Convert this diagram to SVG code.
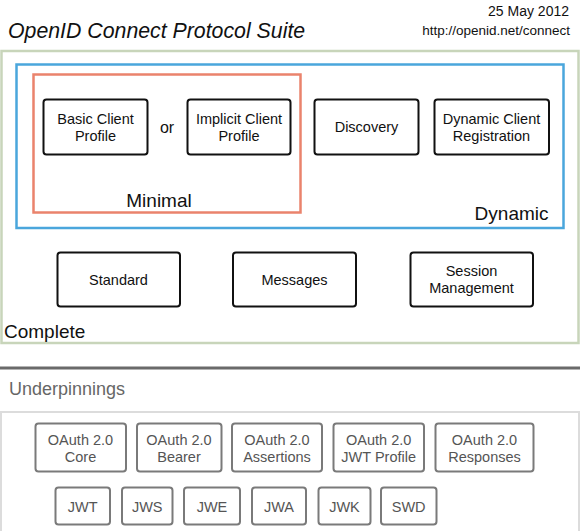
<svg xmlns="http://www.w3.org/2000/svg" width="580" height="531" viewBox="0 0 580 531">
<style>
text{font-family:"Liberation Sans",Arial,sans-serif;}
.t{font-size:14.5px;fill:#111;text-anchor:middle;}
.big{font-size:19px;fill:#111;}
.b{fill:#fff;stroke:#111;stroke-width:2;}
.g{fill:#fff;stroke:#7a7a7a;stroke-width:2;}
.gt{font-size:14.5px;fill:#555;text-anchor:middle;}
</style>
<rect width="580" height="531" fill="#fff"/>
<text x="8" y="38" font-size="21.3" font-style="italic" fill="#111">OpenID Connect Protocol Suite</text>
<text x="569" y="16" font-size="14" fill="#111" text-anchor="end">25 May 2012</text>
<text x="570" y="35" font-size="13.5" fill="#111" text-anchor="end">http://openid.net/connect</text>

<g id="complete">
<rect x="1.5" y="51" width="577" height="292" fill="none" stroke="#c8d5ba" stroke-width="2.5"/>
<text class="big" x="4" y="338">Complete</text>
</g>
<g id="dynamic">
<rect x="16.5" y="64.5" width="547" height="163.5" fill="none" stroke="#4aa6dc" stroke-width="2.5"/>
<text class="big" x="548.5" y="219.5" text-anchor="end">Dynamic</text>
</g>
<g id="minimal">
<rect x="33.5" y="74.5" width="267" height="138" fill="none" stroke="#ea836c" stroke-width="2.5"/>
<text class="big" x="159" y="207" text-anchor="middle">Minimal</text>
</g>

<g id="basic">
<rect class="b" x="43.5" y="99.5" width="104" height="55" rx="3"/>
<text class="t" x="95.5" y="123.5">Basic Client</text>
<text class="t" x="95.5" y="140.5">Profile</text>
</g>
<g id="or"><text x="167" y="132.5" font-size="16" fill="#111" text-anchor="middle">or</text></g>
<g id="implicit">
<rect class="b" x="187.5" y="99.5" width="103" height="55" rx="3"/>
<text class="t" x="239" y="123.5">Implicit Client</text>
<text class="t" x="239" y="140.5">Profile</text>
</g>
<g id="discovery">
<rect class="b" x="314.5" y="99.5" width="104" height="55" rx="3"/>
<text class="t" x="366.5" y="132">Discovery</text>
</g>
<g id="registration">
<rect class="b" x="434.5" y="99.5" width="114.5" height="55" rx="3"/>
<text class="t" x="491.5" y="123.5">Dynamic Client</text>
<text class="t" x="491.5" y="140.5">Registration</text>
</g>
<g id="standard">
<rect class="b" x="57.5" y="252.5" width="122.5" height="54" rx="3"/>
<text class="t" x="118.5" y="285">Standard</text>
</g>
<g id="messages">
<rect class="b" x="233" y="252.5" width="123" height="54" rx="3"/>
<text class="t" x="294.5" y="285">Messages</text>
</g>
<g id="session">
<rect class="b" x="410.5" y="252.5" width="122.5" height="54" rx="3"/>
<text class="t" x="471.5" y="276">Session</text>
<text class="t" x="471.5" y="293">Management</text>
</g>

<line x1="0" y1="368" x2="580" y2="368" stroke="#6a6a6a" stroke-width="3"/>
<text x="9" y="394.5" font-size="18" fill="#666">Underpinnings</text>
<g id="underpinnings">
<rect x="1" y="412" width="578" height="122" fill="none" stroke="#dcdcdc" stroke-width="2"/>
</g>

<g id="oauth-core"><rect class="g" x="35.5" y="423.5" width="90.5" height="48" rx="3"/>
<text class="gt" x="80.5" y="445">OAuth 2.0</text><text class="gt" x="80.5" y="461.5">Core</text></g>
<g id="oauth-bearer"><rect class="g" x="137" y="423.5" width="84.5" height="48" rx="3"/>
<text class="gt" x="179" y="445">OAuth 2.0</text><text class="gt" x="179" y="461.5">Bearer</text></g>
<g id="oauth-assertions"><rect class="g" x="232" y="423.5" width="90" height="48" rx="3"/>
<text class="gt" x="277" y="445">OAuth 2.0</text><text class="gt" x="277" y="461.5">Assertions</text></g>
<g id="oauth-jwt-profile"><rect class="g" x="333.5" y="423.5" width="90.5" height="48" rx="3"/>
<text class="gt" x="378.7" y="445">OAuth 2.0</text><text class="gt" x="378.7" y="461.5">JWT Profile</text></g>
<g id="oauth-responses"><rect class="g" x="435.5" y="423.5" width="98" height="48" rx="3"/>
<text class="gt" x="484.5" y="445">OAuth 2.0</text><text class="gt" x="484.5" y="461.5">Responses</text></g>

<g id="jwt"><rect class="g" x="55.5" y="487.5" width="54.5" height="37" rx="3"/><text class="gt" x="82.7" y="512">JWT</text></g>
<g id="jws"><rect class="g" x="122" y="487.5" width="50.5" height="37" rx="3"/><text class="gt" x="147.2" y="512">JWS</text></g>
<g id="jwe"><rect class="g" x="184" y="487.5" width="56" height="37" rx="3"/><text class="gt" x="212" y="512">JWE</text></g>
<g id="jwa"><rect class="g" x="252" y="487.5" width="54" height="37" rx="3"/><text class="gt" x="279" y="512">JWA</text></g>
<g id="jwk"><rect class="g" x="318.5" y="487.5" width="52" height="37" rx="3"/><text class="gt" x="344.5" y="512">JWK</text></g>
<g id="swd"><rect class="g" x="381" y="487.5" width="55.5" height="37" rx="3"/><text class="gt" x="408.7" y="512">SWD</text></g>
<g id="connectors"></g>
</svg>
